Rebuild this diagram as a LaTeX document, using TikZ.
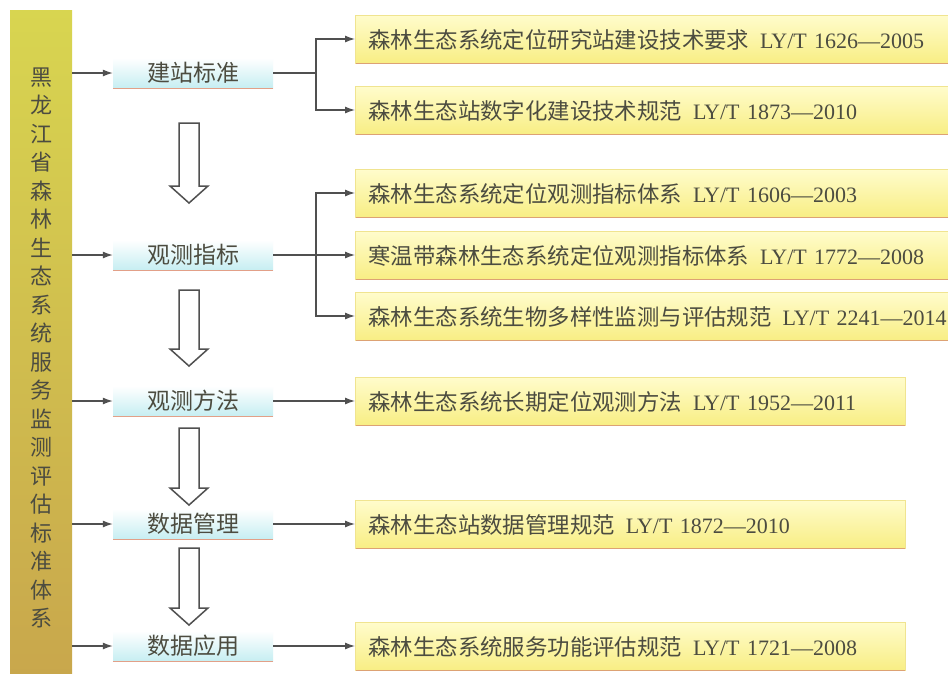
\documentclass[tikz,border=0pt]{standalone}
\usepackage{fontspec}
\setmainfont{Liberation Serif}
\newfontfamily\cjk{Noto Sans CJK SC}
\usetikzlibrary{arrows.meta}
\definecolor{bartop}{HTML}{D8D550}
\definecolor{barbot}{HTML}{C8A64C}
\definecolor{txt}{HTML}{4C4C40}
\definecolor{ln}{HTML}{505050}
\definecolor{cyb}{HTML}{C6EEF2}
\definecolor{ytop}{HTML}{FFFCCC}
\definecolor{ybot}{HTML}{F8EE84}
\definecolor{ybord}{HTML}{F0E490}
\definecolor{shad}{HTML}{DDA274}
\definecolor{salm}{HTML}{E2A088}
\tikzset{
  barbox/.style={rectangle, minimum width=62pt, minimum height=680pt, inner sep=0pt,
    top color=bartop, bottom color=barbot, draw=none},
  bartxt/.style={text=txt, font=\cjk\fontsize{22}{28.5}\selectfont, align=center, inner sep=0pt},
  midbox/.style={rectangle, minimum width=160pt, minimum height=30pt, inner sep=0pt,
    top color=white, bottom color=cyb, draw=none, text=txt,
    font=\cjk\fontsize{23}{23}\selectfont},
  rbox/.style={rectangle, anchor=west, minimum height=48pt, inner xsep=13pt, inner ysep=0pt,
    top color=ytop, bottom color=ybot, draw=ybord, line width=0.8pt, text=txt,
    font=\fontsize{22}{22}\selectfont, text depth=0pt},
  wide/.style={minimum width=610pt, text width=584pt, align=left},
  narrow/.style={minimum width=550pt, text width=524pt, align=left},
  arr/.style={draw=ln, line width=1.2pt, -{Latex[length=10pt,width=7pt]}},
  plain/.style={draw=ln, line width=1.2pt},
  hol/.style={draw=ln, line width=1.5pt, fill=white, line join=miter},
  bline/.style={draw=salm, line width=1.3pt},
  sline/.style={draw=shad, line width=1.6pt}
}
\newcommand\cj[1]{{\cjk\fontsize{22.4}{22.4}\selectfont #1}\hskip 0.5em}
\newcommand\hollowarrow[3]{\draw[hol] (#1-10,#2) -- (#1+10,#2) -- (#1+10,#3-17) -- (#1+19,#3-17) -- (#1,#3) -- (#1-19,#3-17) -- (#1-10,#3-17) -- cycle;}
\begin{document}
\begin{tikzpicture}[x=1pt,y=-1pt]
\useasboundingbox (0,0) rectangle (948,673);
\fill[white] (0,0) rectangle (948,673);
% left bar
\node[barbox] (bar) at (41,350) {};
\node[bartxt] (bartext) at (41,348) {黑\\龙\\江\\省\\森\\林\\生\\态\\系\\统\\服\\务\\监\\测\\评\\估\\标\\准\\体\\系};
% middle boxes
\node[midbox] (m1) at (193,73) {建站标准};
\node[midbox] (m2) at (193,255) {观测指标};
\node[midbox] (m3) at (193,401) {观测方法};
\node[midbox] (m4) at (193,524) {数据管理};
\node[midbox] (m5) at (193,646) {数据应用};
\foreach \m in {m1,m2,m3,m4,m5}{
  \draw[bline] (\m.south west) -- (\m.south east);
  \draw[arr] (bar.east |- \m) -- (\m.west);
}
% hollow arrows
\hollowarrow{189}{123}{203}
\hollowarrow{189}{290}{366}
\hollowarrow{189}{428}{505}
\hollowarrow{189}{548}{625}
% right boxes
\node[rbox,wide] (r1) at (355,39) {\cj{森林生态系统定位研究站建设技术要求}LY/T 1626—2005};
\node[rbox,wide] (r2) at (355,110) {\cj{森林生态站数字化建设技术规范}LY/T 1873—2010};
\node[rbox,wide] (r3) at (355,193) {\cj{森林生态系统定位观测指标体系}LY/T 1606—2003};
\node[rbox,wide] (r4) at (355,255) {\cj{寒温带森林生态系统定位观测指标体系}LY/T 1772—2008};
\node[rbox,wide] (r5) at (355,316) {\cj{森林生态系统生物多样性监测与评估规范}LY/T 2241—2014};
\node[rbox,narrow] (r6) at (355,401) {\cj{森林生态系统长期定位观测方法}LY/T 1952—2011};
\node[rbox,narrow] (r7) at (355,524) {\cj{森林生态站数据管理规范}LY/T 1872—2010};
\node[rbox,narrow] (r8) at (355,646) {\cj{森林生态系统服务功能评估规范}LY/T 1721—2008};
\foreach \r in {r1,r2,r3,r4,r5,r6,r7,r8}{
  \draw[sline] ([xshift=1pt]\r.south west) -- ([xshift=-1pt]\r.south east);
}
% connectors
\draw[plain] (m1.east) -- (316,73) coordinate (j1);
\draw[arr] (j1) |- (r1.west);
\draw[arr] (j1) |- (r2.west);
\draw[plain] (m2.east) -- (316,255) coordinate (j2);
\draw[arr] (j2) |- (r3.west);
\draw[arr] (j2) -- (r4.west);
\draw[arr] (j2) |- (r5.west);
\draw[arr] (m3.east) -- (r6.west);
\draw[arr] (m4.east) -- (r7.west);
\draw[arr] (m5.east) -- (r8.west);
\end{tikzpicture}
\end{document}
